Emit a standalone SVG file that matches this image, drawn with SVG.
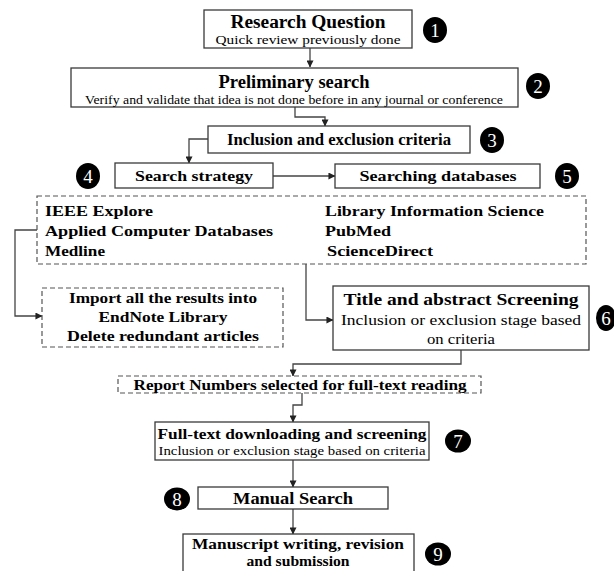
<svg xmlns="http://www.w3.org/2000/svg" width="614" height="571" viewBox="0 0 614 571">
  <defs>
    <marker id="arr" viewBox="0 0 8 8" refX="7.5" refY="4" markerWidth="7" markerHeight="7" markerUnits="userSpaceOnUse" orient="auto">
      <path d="M0,0 L8,4 L0,8 z" fill="#222"/>
    </marker>
    <style>
      .box { fill: #fff; stroke: #3a3a3a; stroke-width: 1.3; }
      .dbox { fill: #fff; stroke: #555; stroke-width: 1.2; stroke-dasharray: 5 3; }
      .badge { fill: #000; }
      .num { fill: #fff; font-family: "Liberation Serif", "Times New Roman", serif; font-size: 19px; text-anchor: middle; }
      .t { font-family: "Liberation Serif", "Times New Roman", serif; fill: #000; }
      .b { font-weight: bold; }
      .c { text-anchor: middle; }
      .conn { fill: none; stroke: #444; stroke-width: 1.3; marker-end: url(#arr); }
    </style>
  </defs>
  <rect width="614" height="571" fill="#fff"/>

  <!-- connectors -->
  <g id="connectors">
    <path class="conn" d="M310,48 V67"/>
    <path class="conn" d="M295,107 V117 H325 V126"/>
    <path class="conn" d="M208,139 H189 V163"/>
    <path class="conn" d="M273,176 H335"/>
    <path class="conn" d="M37,230 H15 V316 H42"/>
    <path class="conn" d="M306,264 V320 H333"/>
    <path class="conn" d="M461,350 V364 H293 V376"/>
    <path class="conn" d="M302,393 V405 H293 V422"/>
    <path class="conn" d="M293,460 V487"/>
    <path class="conn" d="M293,509 V534"/>
  </g>

  <g id="n1">
    <rect class="box" x="204" y="10" width="208" height="38"/>
    <text class="t b c" x="308" y="28" font-size="18" textLength="155" lengthAdjust="spacingAndGlyphs">Research Question</text>
    <text class="t c" x="308" y="44" font-size="13.5" textLength="185" lengthAdjust="spacingAndGlyphs">Quick review previously done</text>
    <ellipse class="badge" cx="435" cy="30" rx="12" ry="13"/>
    <text class="num" x="435" y="37">1</text>
  </g>

  <g id="n2">
    <rect class="box" x="71" y="68" width="447" height="39"/>
    <text class="t b c" x="294" y="88" font-size="18" textLength="151" lengthAdjust="spacingAndGlyphs">Preliminary search</text>
    <text class="t c" x="294" y="104" font-size="12.5" textLength="418" lengthAdjust="spacingAndGlyphs">Verify and validate that idea is not done before in any journal or conference</text>
    <ellipse class="badge" cx="538" cy="86" rx="12" ry="13"/>
    <text class="num" x="538" y="93">2</text>
  </g>

  <g id="n3">
    <rect class="box" x="208" y="126" width="262" height="27"/>
    <text class="t b c" x="339" y="145" font-size="16" textLength="224" lengthAdjust="spacingAndGlyphs">Inclusion and exclusion criteria</text>
    <ellipse class="badge" cx="492" cy="140" rx="12" ry="13"/>
    <text class="num" x="492" y="147">3</text>
  </g>

  <g id="n4">
    <rect class="box" x="115" y="163" width="158" height="25"/>
    <text class="t b c" x="194" y="181" font-size="15.5" textLength="118" lengthAdjust="spacingAndGlyphs">Search strategy</text>
    <ellipse class="badge" cx="88" cy="176" rx="12" ry="13"/>
    <text class="num" x="88" y="183">4</text>
  </g>

  <g id="n5">
    <rect class="box" x="335" y="164" width="205" height="24"/>
    <text class="t b c" x="438" y="181" font-size="15.5" textLength="157" lengthAdjust="spacingAndGlyphs">Searching databases</text>
    <ellipse class="badge" cx="567" cy="176" rx="12" ry="13"/>
    <text class="num" x="567" y="183">5</text>
  </g>

  <g id="databases">
    <rect class="dbox" x="37" y="196" width="549" height="68"/>
    <text class="t b" x="45" y="216" font-size="15.5" textLength="108" lengthAdjust="spacingAndGlyphs">IEEE Explore</text>
    <text class="t b" x="45" y="236" font-size="15.5" textLength="228" lengthAdjust="spacingAndGlyphs">Applied Computer Databases</text>
    <text class="t b" x="45" y="256" font-size="15.5" textLength="60" lengthAdjust="spacingAndGlyphs">Medline</text>
    <text class="t b" x="325" y="216" font-size="15.5" textLength="219" lengthAdjust="spacingAndGlyphs">Library Information Science</text>
    <text class="t b" x="325" y="236" font-size="15.5" textLength="66" lengthAdjust="spacingAndGlyphs">PubMed</text>
    <text class="t b" x="327" y="256" font-size="15.5" textLength="106" lengthAdjust="spacingAndGlyphs">ScienceDirect</text>
  </g>

  <g id="endnote">
    <rect class="dbox" x="42" y="288" width="241" height="59"/>
    <text class="t b c" x="163" y="303" font-size="15" textLength="188" lengthAdjust="spacingAndGlyphs">Import all the results into</text>
    <text class="t b c" x="163" y="322" font-size="15" textLength="129" lengthAdjust="spacingAndGlyphs">EndNote Library</text>
    <text class="t b c" x="163" y="341" font-size="15" textLength="192" lengthAdjust="spacingAndGlyphs">Delete redundant articles</text>
  </g>

  <g id="n6">
    <rect class="box" x="333" y="286" width="256" height="64"/>
    <text class="t b c" x="461" y="305" font-size="17" textLength="235" lengthAdjust="spacingAndGlyphs">Title and abstract Screening</text>
    <text class="t c" x="461" y="325" font-size="15" textLength="240" lengthAdjust="spacingAndGlyphs">Inclusion or exclusion stage based</text>
    <text class="t c" x="461" y="344" font-size="15" textLength="68" lengthAdjust="spacingAndGlyphs">on criteria</text>
    <ellipse class="badge" cx="606" cy="318" rx="10" ry="13"/>
    <text class="num" x="606" y="325">6</text>
  </g>

  <g id="report">
    <rect class="dbox" x="118" y="376" width="363" height="17"/>
    <text class="t b c" x="300" y="390" font-size="15" textLength="333" lengthAdjust="spacingAndGlyphs">Report Numbers selected for full-text reading</text>
  </g>

  <g id="n7">
    <rect class="box" x="155" y="422" width="274" height="38"/>
    <text class="t b c" x="292" y="439" font-size="15.5" textLength="269" lengthAdjust="spacingAndGlyphs">Full-text downloading and screening</text>
    <text class="t c" x="292" y="455" font-size="12.5" textLength="267" lengthAdjust="spacingAndGlyphs">Inclusion or exclusion stage based on criteria</text>
    <ellipse class="badge" cx="458" cy="441" rx="13" ry="11.5"/>
    <text class="num" x="458" y="448">7</text>
  </g>

  <g id="n8">
    <rect class="box" x="198" y="487" width="190" height="22"/>
    <text class="t b c" x="293" y="504" font-size="17" textLength="120" lengthAdjust="spacingAndGlyphs">Manual Search</text>
    <ellipse class="badge" cx="177" cy="499" rx="13" ry="11.5"/>
    <text class="num" x="177" y="506">8</text>
  </g>

  <g id="n9">
    <rect class="box" x="183" y="534" width="231" height="45"/>
    <text class="t b c" x="298" y="548.5" font-size="15" textLength="212" lengthAdjust="spacingAndGlyphs">Manuscript writing, revision</text>
    <text class="t b c" x="298" y="566" font-size="15" textLength="103" lengthAdjust="spacingAndGlyphs">and submission</text>
    <ellipse class="badge" cx="438" cy="554" rx="13" ry="11.5"/>
    <text class="num" x="438" y="561">9</text>
  </g>
</svg>
